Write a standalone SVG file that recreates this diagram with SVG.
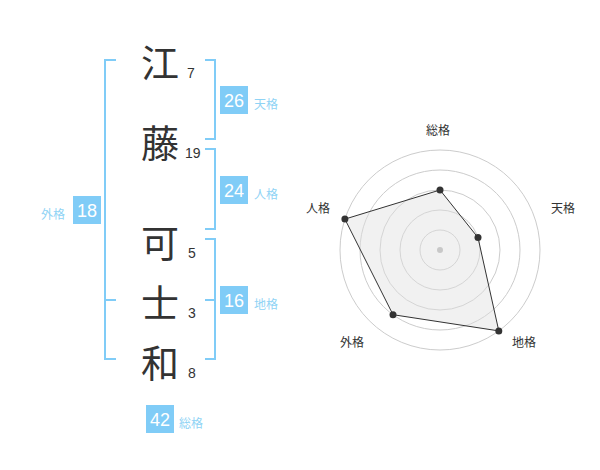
<svg xmlns="http://www.w3.org/2000/svg" width="600" height="470" viewBox="0 0 600 470">
<style>
.kanji{font-family:"Noto Sans CJK JP","Noto Sans CJK SC",sans-serif;font-size:38px;fill:#333;text-anchor:middle;dominant-baseline:central}
.num{font-family:"Liberation Sans",Arial,sans-serif;font-size:14px;fill:#333}
.br{fill:none;stroke:#80ccf7;stroke-width:2}
.box{fill:#80ccf7}
.bt{font-family:"Liberation Sans",Arial,sans-serif;font-size:18px;fill:#fff;text-anchor:middle}
.bl{font-family:"Noto Sans CJK JP",sans-serif;font-size:12px;fill:#8fd3f5}
.rl{font-family:"Noto Sans CJK JP",sans-serif;font-size:12px;fill:#333;text-anchor:middle}
.ring{fill:none;stroke:#cccccc;stroke-width:1}
.pt{fill:#333}
</style>
<rect width="600" height="470" fill="#fff"/>
<g id="chars">
<text class="kanji" x="160" y="60">江</text>
<text class="kanji" x="160" y="140">藤</text>
<text class="kanji" x="160" y="240">可</text>
<text class="kanji" x="160" y="300">士</text>
<text class="kanji" x="160" y="360">和</text>
<text class="num" x="187" y="78">7</text>
<text class="num" x="185" y="158">19</text>
<text class="num" x="188" y="258">5</text>
<text class="num" x="188" y="318">3</text>
<text class="num" x="188" y="378">8</text>
</g>
<g id="connectors">
<path class="br" d="M116,60 H105 V359 H116 M105,300 H116"/>
<path class="br" d="M205,60 H215 V139 H205"/>
<path class="br" d="M205,149 H215 V229 H205"/>
<path class="br" d="M205,239 H215 V359 H205 M205,300 H215"/>
</g>
<g id="tenkaku">
<rect class="box" x="220" y="86" width="28" height="28"/>
<text class="bt" x="234" y="107">26</text>
<text class="bl" x="254" y="109">天格</text>
</g>
<g id="jinkaku">
<rect class="box" x="220" y="176" width="28" height="28"/>
<text class="bt" x="234" y="197">24</text>
<text class="bl" x="254" y="199">人格</text>
</g>
<g id="chikaku">
<rect class="box" x="220" y="286" width="28" height="28"/>
<text class="bt" x="234" y="307">16</text>
<text class="bl" x="254" y="309">地格</text>
</g>
<g id="gaikaku">
<rect class="box" x="73" y="196" width="28" height="28"/>
<text class="bt" x="87" y="217">18</text>
<text class="bl" x="41" y="219">外格</text>
</g>
<g id="soukaku">
<rect class="box" x="146" y="405" width="28" height="28"/>
<text class="bt" x="160" y="426">42</text>
<text class="bl" x="179" y="428">総格</text>
</g>
<g id="radar">
<circle class="ring" cx="440" cy="250" r="20"/>
<circle class="ring" cx="440" cy="250" r="40"/>
<circle class="ring" cx="440" cy="250" r="60"/>
<circle class="ring" cx="440" cy="250" r="80"/>
<circle class="ring" cx="440" cy="250" r="100"/>
<polygon points="440,190 478,237.6 498.8,330.9 393,314.7 344.9,219.1" fill="#e0e0e0" fill-opacity="0.45" stroke="#333" stroke-width="1"/>
<circle cx="440" cy="250" r="3" fill="#c8c8c8"/>
<circle class="pt" cx="440" cy="190" r="3.5"/>
<circle class="pt" cx="478" cy="237.6" r="3.5"/>
<circle class="pt" cx="498.8" cy="330.9" r="3.5"/>
<circle class="pt" cx="393" cy="314.7" r="3.5"/>
<circle class="pt" cx="344.9" cy="219.1" r="3.5"/>
<text class="rl" x="438" y="135">総格</text>
<text class="rl" x="563" y="213">天格</text>
<text class="rl" x="524" y="347">地格</text>
<text class="rl" x="352" y="347">外格</text>
<text class="rl" x="318" y="213">人格</text>
</g>
</svg>
